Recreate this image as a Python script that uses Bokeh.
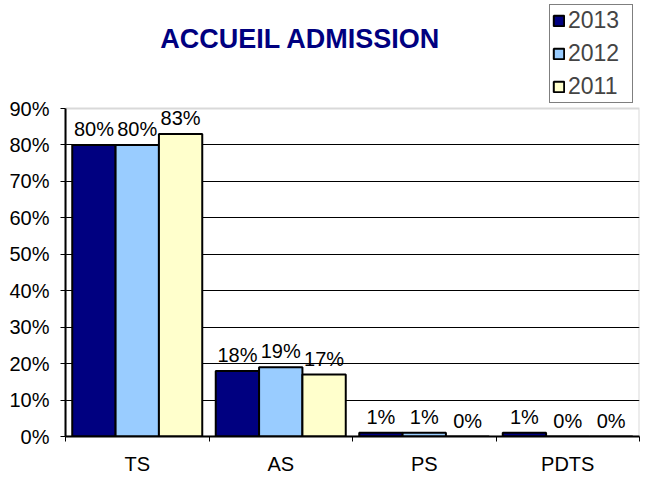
from bokeh.plotting import figure
from bokeh.models import (ColumnDataSource, FixedTicker, Legend, LegendItem, Range1d,
                          Label, BoxAnnotation)
from bokeh.embed import file_html
from bokeh.resources import INLINE
from bokeh.core.properties import value

# ---- data ----
categories = ["TS", "AS", "PS", "PDTS"]
years = ["2013", "2012", "2011"]
v2013 = [80, 18, 1, 1]
v2012 = [80, 19, 1, 0]
v2011 = [83, 17, 0, 0]
y_ticks = [0, 10, 20, 30, 40, 50, 60, 70, 80, 90]
y_tick_labels = ["0%", "10%", "20%", "30%", "40%", "50%", "60%", "70%", "80%", "90%"]
title_text = "ACCUEIL ADMISSION"

series = [v2013, v2012, v2011]
colors = ["#000080", "#99CCFF", "#FFFFCC"]
FONT = "Liberation Sans"
bar_w = 0.302

# ---- layout (pixels) ----
W, H = 643, 477
BORDER_LEFT, BORDER_RIGHT, BORDER_BOTTOM = 65, 4, 41
FRAME_H = H - BORDER_BOTTOM               # frame reaches the top of the figure
area_top = 108                            # pixel row of the 90% line
px_per_unit = (FRAME_H - area_top) / (y_ticks[-1] - y_ticks[0])
y_max = y_ticks[-1] + area_top / px_per_unit

p = figure(width=W, height=H, output_backend="svg", toolbar_location=None,
           x_range=Range1d(0, len(categories)), y_range=Range1d(y_ticks[0], y_max))
p.min_border_left = BORDER_LEFT
p.min_border_right = BORDER_RIGHT
p.min_border_top = 0
p.min_border_bottom = BORDER_BOTTOM
p.background_fill_color = "white"
p.border_fill_color = "white"
p.outline_line_color = None

# grey border of the plotting area (top & right visible)
box = BoxAnnotation(left=0, right=len(categories), bottom=y_ticks[0], top=y_ticks[-1],
                    fill_alpha=0, line_color="#808080", line_width=2, level="underlay")
p.add_layout(box)

items = []
for j, (yr, vals, col) in enumerate(zip(years, series, colors)):
    off = (j - 1) * bar_w
    src = ColumnDataSource(dict(
        x=[i + 0.5 + off for i in range(len(categories))],
        top=vals,
        label=[f"{v}%" for v in vals],
    ))
    r = p.vbar(x="x", top="top", bottom=0, width=bar_w, source=src,
               fill_color=col, line_color="black", line_width=2)
    p.text(x="x", y="top", text="label", source=src, text_align="center",
           text_baseline="bottom", y_offset=-5, text_font=value(FONT),
           text_font_size="20px", text_color="black")
    items.append(LegendItem(label=yr, renderers=[r]))

legend = Legend(items=items, location=(484, FRAME_H - 103))
legend.border_line_color = "black"
legend.border_line_width = 1
legend.background_fill_color = "white"
legend.background_fill_alpha = 1
legend.label_text_font = FONT
legend.label_text_font_size = "23px"
legend.label_width = 62
legend.glyph_width = 13
legend.glyph_height = 13
legend.label_standoff = 3
legend.spacing = 6
legend.padding = 2
legend.margin = 0
p.add_layout(legend)

title = Label(x=235, y=FRAME_H - 38, x_units="screen", y_units="screen",
              text=title_text, text_align="center", text_baseline="middle",
              text_font=FONT, text_font_size="27px", text_font_style="bold",
              text_color="#000080")
p.add_layout(title)

# grid
p.xgrid.visible = False
p.ygrid.ticker = FixedTicker(ticks=y_ticks[1:-1], minor_ticks=[])
p.ygrid.grid_line_color = "black"
p.ygrid.grid_line_width = 1

# y axis
p.yaxis.ticker = FixedTicker(ticks=y_ticks, minor_ticks=[])
p.yaxis.bounds = (y_ticks[0], y_ticks[-1])
p.yaxis.major_label_overrides = {t: l for t, l in zip(y_ticks, y_tick_labels)}
p.yaxis.major_tick_out = 5
p.yaxis.major_tick_in = 0
p.yaxis.minor_tick_out = 0
p.yaxis.major_label_standoff = 11

# x axis: labels at category centres, ticks at category boundaries
centers = [i + 0.5 for i in range(len(categories))]
p.xaxis.ticker = FixedTicker(ticks=centers, minor_ticks=list(range(len(categories) + 1)))
p.xaxis.major_label_overrides = {c: n for c, n in zip(centers, categories)}
p.xaxis.major_tick_out = 0
p.xaxis.major_tick_in = 0
p.xaxis.minor_tick_out = 5
p.xaxis.minor_tick_in = 0
p.xaxis.major_label_standoff = 11
p.xaxis.axis_label = None

for ax in (p.xaxis[0], p.yaxis[0]):
    ax.axis_line_color = "black"
    ax.axis_line_width = 2
    ax.major_tick_line_color = "black"
    ax.minor_tick_line_color = "black"
    ax.major_label_text_font = FONT
    ax.major_label_text_font_size = "20px"
    ax.major_label_text_color = "black"

open("out.html", "w").write(file_html(p, INLINE))
